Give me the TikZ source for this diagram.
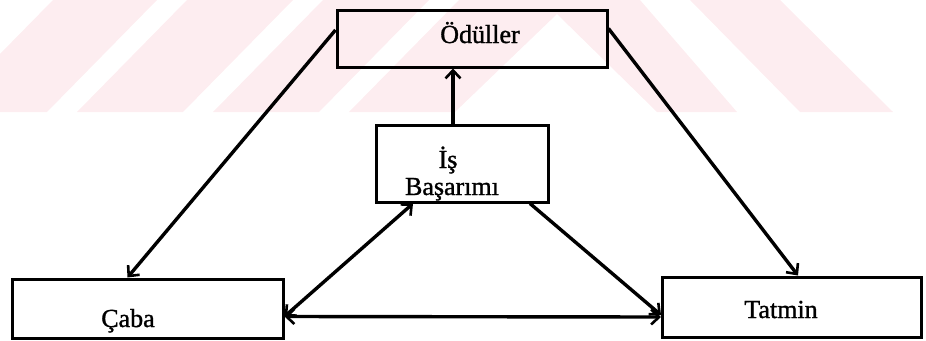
\documentclass[tikz,border=0pt]{standalone}
\usepackage{fontspec}
\setmainfont{Liberation Serif}
\newfontface\inkfont{Liberation Serif}[FakeBold=1.2]
\usetikzlibrary{arrows.meta,calc}
\definecolor{wm}{RGB}{253,237,240}
\begin{document}
\begin{tikzpicture}[x=1pt,y=-1pt,
  box/.style={draw=black,line width=3pt,inner sep=0pt},
  lbl/.style={inner sep=0pt,anchor=base,font=\inkfont\fontsize{26}{28}\selectfont},
  tip/.tip={Straight Barb[length=8pt,width=15pt,line width=2.6pt]},
  arr/.style={line width=3.4pt,-tip},
  darr/.style={line width=3.4pt,tip-tip}]
\useasboundingbox (0,0) rectangle (926,340);
% faint watermark
\begin{scope}
\clip (0,0) rectangle (926,112);
\fill[wm] (53,0) -- (157,0) -- (47,112) -- (-57,112) -- cycle;
\fill[wm] (187,0) -- (293,0) -- (183,112) -- (77,112) -- cycle;
\fill[wm] (323,0) -- (429,0) -- (319,112) -- (213,112) -- cycle;
\fill[wm] (459,0) -- (640,0) -- (737,112) -- (657,112) -- (557,14) -- (455,112) -- (349,112) -- cycle;
\fill[wm] (690,0) -- (780,0) -- (893,112) -- (800,112) -- cycle;
\end{scope}
% boxes
\node[box,minimum width=270pt,minimum height=57pt] (odul) at (472,38.5) {};
\node[box,minimum width=172pt,minimum height=77pt] (is) at (462,163.5) {};
\node[box,minimum width=271pt,minimum height=59pt] (caba) at (147.5,308.5) {};
\node[box,minimum width=259pt,minimum height=60pt] (tatmin) at (792,307) {};
% labels
\node[lbl] (odultxt) at (480,43) {Ödüller};
\node[lbl] (istxt1) at (448,168) {İş};
\node[lbl] (istxt2) at (452,195) {Başarımı};
\node[lbl] (cabatxt) at (128,327) {Çaba};
\node[lbl] (tatmintxt) at (781,318) {Tatmin};
% connectors
\draw[arr] ($(odul.west)+(0,-8.5)$) -- ($(caba.north)+(-20,0)$);
\draw[arr] ($(odul.east)+(0,-10)$) -- ($(tatmin.north)+(6,0)$);
\draw[arr] ($(is.north)+(-9,0)$) -- ($(odul.south)+(-19,0)$);
\draw[darr] ($(caba.east)+(0,8)$) -- ($(is.south)+(-49,0)$);
\draw[darr] ($(caba.east)+(0,8)$) -- ($(tatmin.west)+(0,10)$);
\draw[arr] ($(is.south)+(68,0)$) -- ($(tatmin.west)+(0,8)$);
\end{tikzpicture}
\end{document}
